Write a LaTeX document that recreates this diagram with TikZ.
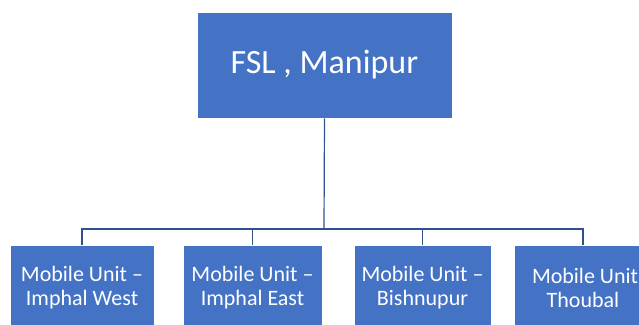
\documentclass[tikz,border=0pt]{standalone}
\usepackage{fontspec}
\setmainfont{Carlito}
\definecolor{boxblue}{HTML}{4472C4}
\definecolor{lineblue}{HTML}{2F528F}
\begin{document}
\begin{tikzpicture}[x=1pt,y=-1pt,
  topbox/.style={fill=boxblue,draw=white,line width=0.6pt,text=white,minimum width=255pt,minimum height=106pt,font=\fontsize{34}{40}\selectfont,inner sep=0pt},
  unitbox/.style={fill=boxblue,draw=white,line width=0.6pt,text=white,minimum width=140pt,minimum height=85pt,font=\fontsize{22}{24}\selectfont,align=center,inner sep=0pt},
  conn/.style={draw=lineblue,line width=1.2pt}]
\useasboundingbox (0,0) rectangle (639,324);
\node[topbox] (top) at (324.5,65) {FSL , Manipur};
\node[unitbox,minimum width=144pt] (u1) at (82,288) {Mobile Unit –\\Imphal West};
\node[unitbox,minimum width=139pt] (u2) at (252.5,288) {Mobile Unit –\\Imphal East};
\node[unitbox,minimum width=137pt] (u3) at (422.5,288) {Mobile Unit –\\Bishnupur};
\node[unitbox,minimum width=137pt] (u4) at (583,288) {\makebox[0pt]{\hspace*{20pt}Mobile Unit –}\\Thoubal};
\coordinate (bus) at (324,229);
\draw[conn] (top.south) -- (bus);
\draw[conn] (u1.north) |- (bus);
\draw[conn] (u2.north) |- (bus);
\draw[conn] (u3.north) |- (bus);
\draw[conn] (u4.north) |- (bus);
\end{tikzpicture}
\end{document}
